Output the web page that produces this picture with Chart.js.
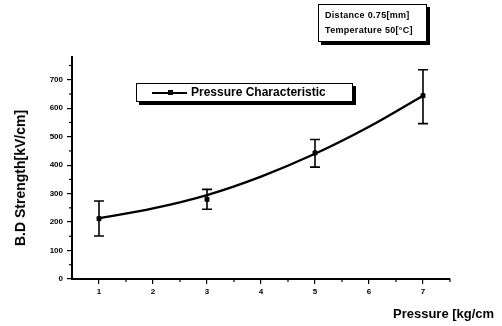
<!DOCTYPE html>
<html><head><meta charset="utf-8">
<script src="https://cdn.jsdelivr.net/npm/chart.js@4.4.1/dist/chart.umd.min.js"></script>
<style>
html,body{margin:0;padding:0;background:#fff;}
#wrap{position:relative;width:502px;height:326px;overflow:hidden;}
canvas{position:absolute;left:0;top:0;}
.t{position:absolute;font-family:"Liberation Sans",Arial,sans-serif;font-weight:bold;color:#000;white-space:nowrap;}
#legend{position:absolute;left:136px;top:83px;width:215px;height:17px;border:1.5px solid #000;box-shadow:3px 3px 0 #000;background:#fff;}
#note{position:absolute;left:318px;top:4px;width:107px;height:36px;border:1.5px solid #000;box-shadow:3px 3px 0 #000;background:#fff;}
</style></head>
<body><div id="wrap"><canvas id="c" width="502" height="326"></canvas>
<div id="legend"><div style="position:absolute;left:15px;top:8px;width:35px;height:2px;background:#000"></div><div style="position:absolute;left:31px;top:6px;width:5px;height:5px;background:#000"></div><div class="t" style="left:54px;top:1px;font-size:12px;">Pressure Characteristic</div></div>
<div id="note"><div class="t" style="left:6px;top:5px;font-size:9px;letter-spacing:0.3px;">Distance 0.75[mm]</div><div class="t" style="left:6px;top:20px;font-size:9px;letter-spacing:0.3px;">Temperature 50[°C]</div></div>
<div class="t" style="left:393px;top:306px;font-size:13px;">Pressure [kg/cm</div>
<div class="t" style="left:20px;top:178px;font-size:14px;font-weight:600;transform:translate(-50%,-50%) rotate(-90deg);">B.D Strength[kV/cm]</div>
</div>
<script>
// measured data
const pressure = [1, 3, 5, 7];
const strength = [212, 280, 443, 644];
const errUp = [62, 35, 47, 91];
const errDown = [61, 35, 50, 98];
// fitted curve
const fitX = [1, 2, 3, 4, 5, 6, 7];
const fitY = [213, 248, 295, 360, 440, 535, 644];
// axes
const xTicks = [1, 2, 3, 4, 5, 6, 7];
const xMinor = [1.5, 2.5, 3.5, 4.5, 5.5, 6.5, 7.5];
const yTicks = [0, 100, 200, 300, 400, 500, 600, 700];
const yMinor = [50, 150, 250, 350, 450, 550, 650, 750];

const errPlugin = {
  id: 'err',
  afterDatasetsDraw(chart) {
    const ctx = chart.ctx, xs = chart.scales.x, ys = chart.scales.y;
    ctx.save();
    ctx.strokeStyle = '#000';
    ctx.lineWidth = 1.6;
    pressure.forEach((p, i) => {
      const px = xs.getPixelForValue(p);
      const t = ys.getPixelForValue(strength[i] + errUp[i]);
      const b = ys.getPixelForValue(strength[i] - errDown[i]);
      ctx.beginPath();
      ctx.moveTo(px, t); ctx.lineTo(px, b);
      ctx.moveTo(px - 5, t); ctx.lineTo(px + 5, t);
      ctx.moveTo(px - 5, b); ctx.lineTo(px + 5, b);
      ctx.stroke();
    });
    // minor ticks
    ctx.lineWidth = 1.2;
    xMinor.forEach(v => {
      const px = xs.getPixelForValue(v);
      ctx.beginPath(); ctx.moveTo(px, chart.chartArea.bottom); ctx.lineTo(px, chart.chartArea.bottom + 3); ctx.stroke();
    });
    yMinor.forEach(v => {
      const py = ys.getPixelForValue(v);
      ctx.beginPath(); ctx.moveTo(chart.chartArea.left, py); ctx.lineTo(chart.chartArea.left - 3, py); ctx.stroke();
    });
    ctx.restore();
  }
};

new Chart(document.getElementById('c'), {
  type: 'scatter',
  data: {
    datasets: [
      { data: fitX.map((x, i) => ({x, y: fitY[i]})), showLine: true, borderColor: '#000', borderWidth: 2.4,
        pointRadius: 0, tension: 0.4, cubicInterpolationMode: 'monotone', fill: false },
      { data: pressure.map((x, i) => ({x, y: strength[i]})), showLine: false, pointStyle: 'rect',
        pointRadius: 2.8, backgroundColor: '#000', borderColor: '#000' }
    ]
  },
  options: {
    responsive: false, animation: false,
    layout: { padding: { left: 0, top: 57, right: 52, bottom: 0 } },
    plugins: { legend: { display: false }, tooltip: { enabled: false } },
    scales: {
      x: {
        type: 'linear', min: 0.5, max: 7.5,
        afterBuildTicks: s => { s.ticks = xTicks.map(v => ({value: v})); },
        afterFit: s => { s.height = 47; },
        grid: { drawOnChartArea: false, drawTicks: true, tickLength: 5, color: '#000', lineWidth: 1.2 },
        border: { display: true, color: '#000', width: 2 },
        ticks: { color: '#000', font: { family: 'Liberation Sans', weight: 'bold', size: 8 }, padding: 3 }
      },
      y: {
        type: 'linear', min: 0, max: 780,
        afterBuildTicks: s => { s.ticks = yTicks.map(v => ({value: v})); },
        afterFit: s => { s.width = 72; },
        grid: { drawOnChartArea: false, drawTicks: true, tickLength: 5, color: '#000', lineWidth: 1.2 },
        border: { display: true, color: '#000', width: 2 },
        ticks: { color: '#000', font: { family: 'Liberation Sans', weight: 'bold', size: 8 }, padding: 4 }
      }
    }
  },
  plugins: [errPlugin]
});
</script></body></html>
